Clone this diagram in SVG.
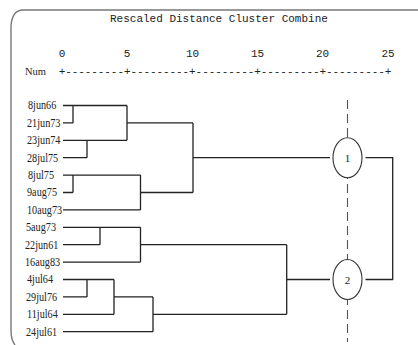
<svg xmlns="http://www.w3.org/2000/svg" width="418" height="345" viewBox="0 0 418 345">
  <style>
    .mono { font-family: "Liberation Mono", "Courier New", monospace; font-size: 11px; fill: #222; }
    .lbl { font-family: "Liberation Serif", "Times New Roman", serif; font-size: 12px; fill: #222; }
    .num { font-family: "Liberation Serif", "Times New Roman", serif; font-size: 11px; fill: #222; text-anchor: middle; }
    .ln { stroke: #222; stroke-width: 1.3; fill: none; }
    .circ { stroke: #333; stroke-width: 1.1; fill: #fff; }
  </style>
  <rect width="418" height="345" fill="#fff"/>
  <path d="M418 10 L22 10 Q12 11 11 26 L11 330 Q11 340 15 345" fill="none" stroke="#777" stroke-width="1.4"/>

  <g id="axis">
    <text class="mono" x="110" y="22">Rescaled Distance Cluster Combine</text>
    <text class="mono" x="62" y="57" text-anchor="middle">0</text>
    <text class="mono" x="127" y="57" text-anchor="middle">5</text>
    <text class="mono" x="192.5" y="57" text-anchor="middle">10</text>
    <text class="mono" x="257.5" y="57" text-anchor="middle">15</text>
    <text class="mono" x="322.5" y="57" text-anchor="middle">20</text>
    <text class="mono" x="388" y="57" text-anchor="middle">25</text>
    <text x="25" y="75" font-family="Liberation Serif, serif" font-size="10.5" fill="#222">Num</text>
    <text class="mono" x="58.7" y="75.3" textLength="332.6" lengthAdjust="spacing">+---------+---------+---------+---------+---------+</text>
  </g>

  <g id="cut-line">
    <line x1="347.5" y1="100" x2="347.5" y2="342" stroke="#555" stroke-width="1.1" stroke-dasharray="9,5"/>
  </g>

  <g id="leaves" transform="scale(0.85,1)">
    <g id="n-8jun66"><text class="lbl" x="32.9" y="109.5">8jun66</text></g>
    <g id="n-21jun73"><text class="lbl" x="31.8" y="126.9">21jun73</text></g>
    <g id="n-23jun74"><text class="lbl" x="31.8" y="144.3">23jun74</text></g>
    <g id="n-28jul75"><text class="lbl" x="31.8" y="161.7">28jul75</text></g>
    <g id="n-8jul75"><text class="lbl" x="32.9" y="179.1">8jul75</text></g>
    <g id="n-9aug75"><text class="lbl" x="31.8" y="196.5">9aug75</text></g>
    <g id="n-10aug73"><text class="lbl" x="31.8" y="213.9">10aug73</text></g>
    <g id="n-5aug73"><text class="lbl" x="30.6" y="231.3">5aug73</text></g>
    <g id="n-22jun61"><text class="lbl" x="29.4" y="248.7">22jun61</text></g>
    <g id="n-16aug83"><text class="lbl" x="29.4" y="266.1">16aug83</text></g>
    <g id="n-4jul64"><text class="lbl" x="31.8" y="283.5">4jul64</text></g>
    <g id="n-29jul76"><text class="lbl" x="30.6" y="300.9">29jul76</text></g>
    <g id="n-11jul64"><text class="lbl" x="31.8" y="318.3">11jul64</text></g>
    <g id="n-24jul61"><text class="lbl" x="30.6" y="335.7">24jul61</text></g>
  </g>

  <g id="connectors" class="ln">
    <path class="ln" d="M63 105.5 H127 M63 122.9 H73 M73 105.5 V122.9"/>
    <path class="ln" d="M63 140.3 H127 M63 157.7 H87 M87 140.3 V157.7"/>
    <path class="ln" d="M127 105.5 V140.3 M127 122.9 H193"/>
    <path class="ln" d="M63 175.1 H140.5 M63 192.5 H73 M73 175.1 V192.5"/>
    <path class="ln" d="M63 209.9 H140.5 M140.5 175.1 V209.9 M140.5 192.5 H193"/>
    <path class="ln" d="M193 122.9 V192.5 M193 157.7 H330"/>
    <path class="ln" d="M63 227.3 H140.5 M63 244.7 H100 M100 227.3 V244.7"/>
    <path class="ln" d="M63 262.1 H140.5 M140.5 227.3 V262.1 M140.5 244.7 H286.7"/>
    <path class="ln" d="M63 279.5 H114 M63 296.9 H87 M87 279.5 V296.9"/>
    <path class="ln" d="M63 314.3 H114 M114 279.5 V314.3 M114 296.9 H153"/>
    <path class="ln" d="M63 331.7 H153 M153 296.9 V331.7 M153 314.3 H286.7"/>
    <path class="ln" d="M286.7 244.7 V314.3 M286.7 279.5 H330"/>
    <path class="ln" d="M365.5 157.7 H392.7 V279.5 H365.5"/>
  </g>

  <g id="cluster-1">
    <ellipse class="circ" cx="347.5" cy="157.7" rx="14.5" ry="20"/>
    <text class="num" x="347.5" y="161.7">1</text>
  </g>
  <g id="cluster-2">
    <ellipse class="circ" cx="347.5" cy="279.5" rx="14.5" ry="20"/>
    <text class="num" x="347.5" y="283.5">2</text>
  </g>
</svg>
